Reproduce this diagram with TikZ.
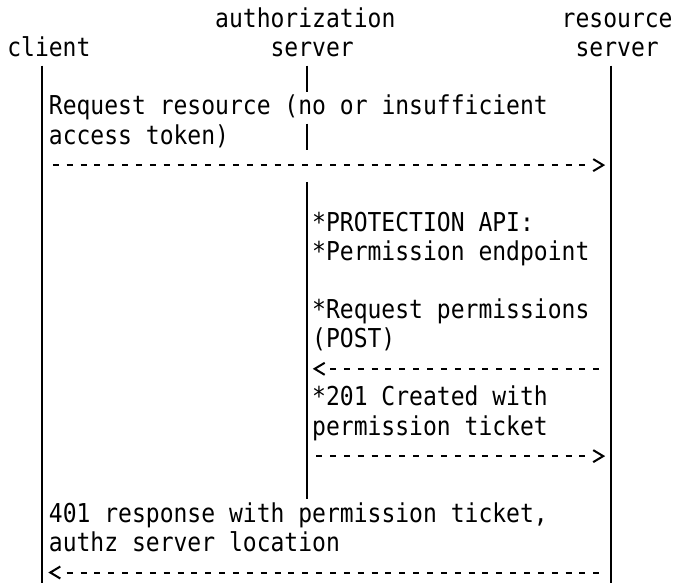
\documentclass[tikz,border=0pt]{standalone}
\usepackage{fontspec}
\newfontfamily\diagfont[FakeStretch=0.8854]{DejaVu Sans Mono}
\begin{document}
\begin{tikzpicture}[x=0.75pt,y=-0.75pt,
  lbl/.style={anchor=base west,inner sep=0pt,outer sep=0pt,
    font=\diagfont\fontsize{19.5pt}{21.8pt}\selectfont},
  life/.style={line width=1.6pt},
  msg/.style={line width=1.5pt,dash pattern=on 4.5pt off 5.895pt},
  head/.style={line width=1.5pt,line join=miter,line cap=butt}]
\useasboundingbox (0,0) rectangle (674,583);
\fill[white] (0,0) rectangle (674,583);

% header labels
\node[lbl] (authA) at (215.2,27.6) {authorization};
\node[lbl] (resA)  at (561.7,27.6) {resource};
\node[lbl] (cli)   at (7.3,56.7) {client};
\node[lbl] (authB) at (270.6,56.7) {server};
\node[lbl] (resB)  at (575.6,56.7) {server};

% lifelines
\coordinate (cTop) at (42.3,65.5);   \coordinate (cBot) at (42.3,583);
\coordinate (rTop) at (610.7,65.5);  \coordinate (rBot) at (610.7,583);
\coordinate (aT1) at (306.7,65.5);   \coordinate (aB1) at (306.7,91.8);
\coordinate (aT2) at (306.7,123.7);  \coordinate (aB2) at (306.7,150.0);
\coordinate (aT3) at (306.7,181.9);  \coordinate (aB3) at (306.7,499.2);
\draw[life] (cTop) -- (cBot);
\draw[life] (rTop) -- (rBot);
\draw[life] (aT1) -- (aB1);
\draw[life] (aT2) -- (aB2);
\draw[life] (aT3) -- (aB3);

% message texts
\node[lbl] (m1a) at (48.9,114.9) {Request resource (no or insufficient};
\node[lbl] (m1b) at (48.9,144.0) {access token)};
\node[lbl] (p1)  at (312.2,231.3) {*PROTECTION API:};
\node[lbl] (p2)  at (312.2,260.4) {*Permission endpoint};
\node[lbl] (m2a) at (312.2,318.6) {*Request permissions};
\node[lbl] (m2b) at (312.2,347.7) {(POST)};
\node[lbl] (m3a) at (312.2,405.9) {*201 Created with};
\node[lbl] (m3b) at (312.2,435.0) {permission ticket};
\node[lbl] (m4a) at (48.9,522.3) {401 response with permission ticket,};
\node[lbl] (m4b) at (48.9,551.4) {authz server location};

% arrow 1: client -> resource server
\coordinate (a1s) at (52.81,165.1);  \coordinate (a1e) at (585.49,165.1);
\coordinate (a1t) at (603.2,165.1);
\draw[msg] (a1s) -- (a1e);
\draw[head] ([shift={(-10,-6)}]a1t) -- (a1t) -- ([shift={(-10,6)}]a1t);

% arrow 2: resource server -> authorization server
\coordinate (a2s) at (330.01,368.8); \coordinate (a2e) at (599.35,368.8);
\coordinate (a2t) at (314.7,368.8);
\draw[msg] (a2s) -- (a2e);
\draw[head] ([shift={(10,-6)}]a2t) -- (a2t) -- ([shift={(10,6)}]a2t);

% arrow 3: authorization server -> resource server
\coordinate (a3s) at (316.15,456.1); \coordinate (a3e) at (585.49,456.1);
\coordinate (a3t) at (603.2,456.1);
\draw[msg] (a3s) -- (a3e);
\draw[head] ([shift={(-10,-6)}]a3t) -- (a3t) -- ([shift={(-10,6)}]a3t);

% arrow 4: resource server -> client
\coordinate (a4s) at (66.67,572.5);  \coordinate (a4e) at (599.35,572.5);
\coordinate (a4t) at (50.3,572.5);
\draw[msg] (a4s) -- (a4e);
\draw[head] ([shift={(10,-6)}]a4t) -- (a4t) -- ([shift={(10,6)}]a4t);
\end{tikzpicture}
\end{document}
